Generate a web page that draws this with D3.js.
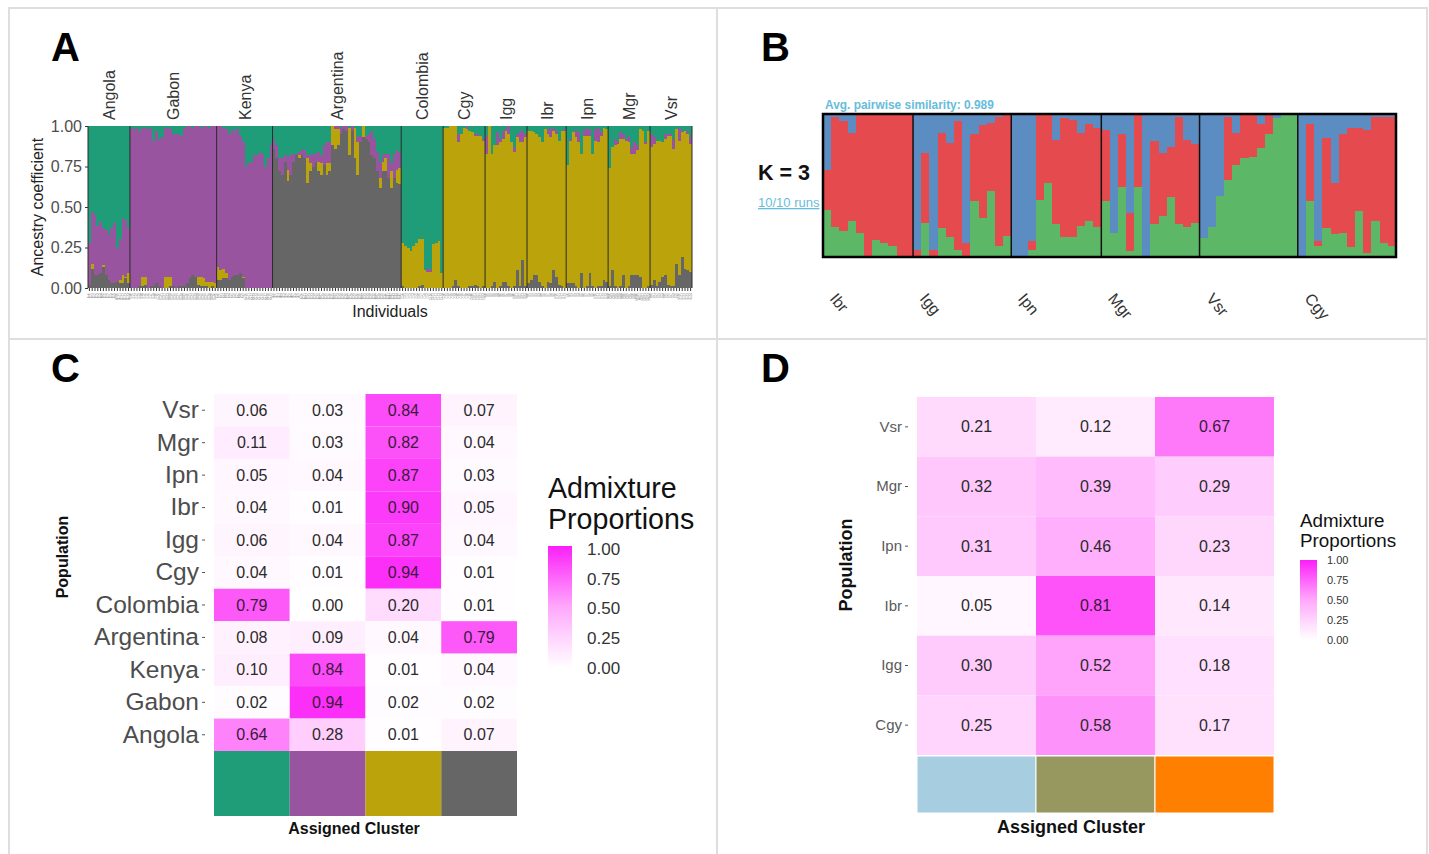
<!DOCTYPE html>
<html>
<head>
<meta charset="utf-8">
<title>Admixture panels</title>
<script src="https://cdnjs.cloudflare.com/ajax/libs/d3/7.8.5/d3.min.js"></script>
<style>
  html, body { margin: 0; padding: 0; background: #fff; }
  svg { display: block; }
  text { font-family: "Liberation Sans", Arial, sans-serif; }
</style>
</head>
<body>
<svg width="1429" height="854"></svg>
<script>
// panel A: populations and how many individuals each one has
var popsA = ['Angola','Gabon','Kenya','Argentina','Colombia','Cgy','Igg','Ibr','Ipn','Mgr','Vsr'];

// panel A: one row per population, one value per individual
var greenA = [
  [.72,.53,.55,.62,.59,.63,.64,.67,.63,.60,.75,.70,.57,.58,.63],
  [.01,.02,.01,.03,.01,.01,.02,.01,.09,.03,.08,.07,.01,.01,.02,.05,.05,.05,.06,.01,0,0,.01,0,0,.01,0,0,.01,0,0],
  [0,0,.01,.02,.05,.02,.03,.02,.06,.10,.25,.23,.22,.18,.18,.16,.17,.25,.20,.12],
  [.08,.12,.20,.20,.18,.19,.18,.17,.17,.16,.14,.15,.18,.18,.17,.17,.16,.18,.12,.10,.10,0,0,0,.01,0,0,.01,0,.01,.07,.06,0,.06,.05,.03,.08,.16,.22,.18,.17,.17,.23,.17,.15,.16],
  [.72,.74,.75,.77,.74,.72,.70,.70,.89,.88,.88,.73,.72,.71,.91],
  [.01,.01,0,0,0,.05,.05,.01,0,.03,.04,.05,.05,.06,.08],
  [.06,0,.17,.12,.04,.08,.03,.02,0,.10,.13,.05,.03,.03,.05],
  [.03,.03,.04,.05,.07,.10,.02,.02,.02,.01,.03,.09,.03,.02],
  [.24,.08,.04,.02,.04,.17,.02,.02,.02,.17,.02,.01,.04,.01,.02],
  [.26,.13,.08,.10,.04,.05,.08,.06,.13,.10,.12,.02,.03,.10,.03],
  [.05,.07,.09,.09,.10,.05,.05,.05,.08,.02,.01,.03,.03,.03,.07]
];
var purpleA = [
  [.26,.32,.37,.30,.32,.23,.28,.28,.34,.37,.21,.25,.35,.35,.28],
  [.99,.98,.99,.96,.92,.92,.98,.98,.90,.94,.91,.93,.92,.92,.91,.94,.95,.94,.93,.98,.97,.94,.91,.93,.93,.92,.94,.96,.95,.96,.97],
  [.87,.89,.87,.89,.90,.91,.89,.90,.85,.83,.75,.77,.78,.82,.82,.84,.83,.75,.80,.88],
  [.06,.08,.08,.10,.04,.08,.12,.05,.01,.02,.04,.05,.02,.05,.08,.05,.06,.05,.12,.13,.13,0,.02,.02,.04,.02,.03,0,.03,0,.03,.04,0,.02,.05,.15,.12,.12,.10,.04,.03,.15,.05,.15,.12,.10],
  [0,0,0,0,0,0,0,0,0,.02,.02,0,0,0,0],
  [0,0,0,0,0,.05,0,0,.02,0,0,.01,.01,0,.01],
  [.11,0,0,0,.08,.02,.05,.01,.05,0,.03,.02,.07,.07,.02],
  [0,0,0,0,0,0,0,.03,.05,.02,.02,0,0,.01],
  [0,.01,0,.05,.06,0,.04,.04,.04,0,.07,.09,.02,0,0],
  [0,0,.04,.01,.04,.03,.01,.04,.04,.07,.03,0,0,.01,0],
  [.08,.04,0,0,0,.03,.01,.01,.06,0,.08,.01,0,.02,.04]
];
var yellowA = [
  [0,.03,0,0,0,.01,0,0,0,0,0,.02,.05,.01,.06],
  [0,0,0,0,.06,.05,0,0,0,0,0,0,.07,.07,.06,0,0,0,0,0,0,0,0,0,.05,.06,.05,.03,.04,.03,.03],
  [.08,.06,.06,.03,0,0,0,0,0,.01,0,0,0,0,0,0,0,0,0,0],
  [0,0,0,0,0,.07,0,0,0,.02,0,0,.15,.05,0,0,.06,.07,0,.07,.05,.12,.12,.10,0,0,0,.17,0,.19,.20,0,.07,0,0,0,0,0,.06,.06,.08,0,.10,0,.08,.10],
  [.27,.26,.25,.23,.26,.28,.29,.28,.11,.10,.10,.27,.28,.29,.09],
  [.99,.99,1,.99,.95,.89,.95,.99,.98,.96,.95,.92,.93,.94,.90],
  [.83,1,.82,.84,.88,.89,.88,.93,.94,.90,.83,.82,.89,.73,.92],
  [.94,.92,.88,.87,.89,.89,.98,.91,.90,.86,.88,.89,.96,.97],
  [.73,.88,.93,.92,.90,.74,.94,.93,.85,.82,.91,.89,.93,.94,.94],
  [.73,.76,.87,.89,.91,.84,.91,.89,.75,.75,.77,.91,.97,.89,.96],
  [.85,.84,.90,.87,.83,.84,.92,.93,.85,.83,.83,.77,.85,.84,.79]
];
var grayA = [
  [.02,.12,.08,.08,.09,.13,.08,.05,.03,.03,.04,.03,.03,.06,.03],
  [0,0,0,.01,.01,.02,0,.01,.01,.03,.01,0,0,0,.01,.01,0,.01,.01,.01,.03,.06,.08,.07,.02,.01,.01,.01,0,.01,0],
  [.05,.05,.06,.06,.05,.07,.08,.08,.09,.06,0,0,0,0,0,0,0,0,0,0],
  [.86,.80,.72,.70,.78,.66,.70,.78,.82,.80,.82,.80,.65,.72,.75,.78,.72,.70,.76,.70,.72,.88,.86,.88,.95,.98,.97,.82,.97,.80,.70,.90,.93,.92,.90,.82,.80,.72,.62,.72,.72,.68,.62,.68,.65,.64],
  [.01,0,0,0,0,0,.01,.02,0,0,0,0,0,0,0],
  [0,0,0,.01,.05,.01,0,0,0,.01,.01,.02,.01,0,.01],
  [0,0,.01,.04,0,.01,.04,.04,.01,0,.01,.11,.01,.17,.01],
  [.03,.05,.08,.08,.04,.01,0,.04,.03,.11,.07,.02,.01,0],
  [.03,.03,.03,.01,0,.09,0,.01,.09,.01,0,.01,.01,.05,.04],
  [.01,.11,.01,0,.01,.08,0,.01,.08,.08,.08,.07,0,0,.01],
  [.02,.05,.01,.04,.07,.08,.02,.01,.01,.15,.08,.19,.12,.11,.10]
];
var ticksA = [0, 0.25, 0.5, 0.75, 1];

// panel B: K = 3 barplot
var popsB = ['Ibr','Igg','Ipn','Mgr','Vsr','Cgy'];
var greenB = [
  [.33,.21,.18,.25,.17,.01,.12,.10,.08,0,0],
  [0,.24,0,.20,.14,.05,.01,.39,.27,.46,.08,.15],
  [.01,0,.05,.40,.52,.23,.14,.14,.22,.25,.21],
  [.39,.17,.49,.04,.49,0,.23,.29,.42,.23,.21,.24],
  [.13,.21,.43,.54,.64,.69,.70,.76,.86,.97,1,1],
  [0,.39,.08,.20,.16,.17,.07,.32,.03,.25,.10,.08]
];
var redB = [
  [.28,.77,.77,.62,.82,.99,.88,.90,.92,1,1],
  [.05,.49,.05,.67,.66,.90,.09,.47,.65,.48,.90,.84],
  [0,0,.06,.59,.47,.59,.83,.82,.65,.68,.69],
  [.50,0,.37,.27,.50,0,.58,.44,.35,.75,.61,.55],
  [0,0,0,.44,.23,.30,.29,.17,.13,0,0,0],
  [0,.54,.03,.63,.36,.69,.83,.58,.86,.73,.88,.90]
];
var blueB = [
  [.39,.02,.05,.13,.01,0,0,0,0,0,0],
  [.95,.27,.95,.13,.20,.05,.90,.14,.08,.06,.02,.01],
  [.99,1,.89,.01,.01,.18,.03,.04,.13,.07,.10],
  [.11,.83,.14,.69,.01,1,.19,.27,.23,.02,.18,.21],
  [.87,.79,.57,.02,.13,.01,.01,.07,.01,.03,0,0],
  [1,.07,.89,.17,.48,.14,.10,.10,.11,.02,.02,.02]
];

// panel C heatmap, rows from the top down
var rowsC = ['Vsr','Mgr','Ipn','Ibr','Igg','Cgy','Colombia','Argentina','Kenya','Gabon','Angola'];
var valuesC = [
  [.06,.03,.84,.07],
  [.11,.03,.82,.04],
  [.05,.04,.87,.03],
  [.04,.01,.90,.05],
  [.06,.04,.87,.04],
  [.04,.01,.94,.01],
  [.79,.00,.20,.01],
  [.08,.09,.04,.79],
  [.10,.84,.01,.04],
  [.02,.94,.02,.02],
  [.64,.28,.01,.07]
];
var clusterColorsC = ['#1f9c78','#98549f','#bba40b','#666666'];

// panel D heatmap
var rowsD = ['Vsr','Mgr','Ipn','Ibr','Igg','Cgy'];
var valuesD = [
  [.21,.12,.67],
  [.32,.39,.29],
  [.31,.46,.23],
  [.05,.81,.14],
  [.30,.52,.18],
  [.25,.58,.17]
];
var clusterColorsD = ['#a6cee0','#96985f','#ff7f00'];
var legendTicks = [0, 0.25, 0.5, 0.75, 1];

var svg = d3.select('svg');
var heatColor = d3.scaleLinear().domain([0, 0.5, 1]).range(['#ffffff', '#ffa8fb', '#fb1ff8']);

// light frame round the four panels
var frame = svg.append('g').attr('fill', 'none').attr('stroke', '#dedede').attr('stroke-width', 2);
frame.append('rect').attr('x', 9).attr('y', 8).attr('width', 1418).attr('height', 860);
frame.append('line').attr('x1', 717).attr('x2', 717).attr('y1', 8).attr('y2', 854);
frame.append('line').attr('x1', 9).attr('x2', 1427).attr('y1', 339).attr('y2', 339);

function panelLetter(label, x, y) {
  svg.append('text').attr('x', x).attr('y', y).text(label)
    .style('font-size', '40px').style('font-weight', 'bold').attr('fill', '#000');
}
panelLetter('A', 51, 61);
panelLetter('B', 761, 61);
panelLetter('C', 51, 382);
panelLetter('D', 761, 382);

// turns the row lists into one record per individual, remembering the group
function flatten(pops, series) {
  var rows = [];
  pops.forEach(function(pop, p) {
    series[Object.keys(series)[0]][p].forEach(function(_, i) {
      var row = {id: pop + '_' + i, pop: pop};
      Object.keys(series).forEach(function(k) { row[k] = series[k][p][i]; });
      rows.push(row);
    });
  });
  return rows;
}

function drawStack(g, rows, keys, colors, x, y) {
  var stack = d3.stack().keys(keys).offset(d3.stackOffsetExpand);
  g.selectAll('.layer').data(stack(rows)).enter().append('g')
    .attr('class', 'layer')
    .attr('fill', function(d) { return colors[d.key]; })
    .attr('shape-rendering', 'crispEdges')
    .selectAll('rect').data(function(d) { return d; }).enter().append('rect')
    .attr('x', function(d) { return x(d.data.id); })
    .attr('y', function(d) { return y(d[1]); })
    .attr('width', x.bandwidth())
    .attr('height', function(d) { return y(d[0]) - y(d[1]); });
}

// start and end of each group along the band scale
function groupSpans(pops, rows, x) {
  return pops.map(function(pop) {
    var own = rows.filter(function(r) { return r.pop === pop; });
    return {pop: pop, x0: x(own[0].id), x1: x(own[own.length - 1].id) + x.bandwidth()};
  });
}

// ---- panel A
(function() {
  var rows = flatten(popsA, {green: greenA, purple: purpleA, yellow: yellowA, gray: grayA});
  var x = d3.scaleBand().domain(rows.map(function(r) { return r.id; })).range([88, 692]);
  var y = d3.scaleLinear().domain([0, 1]).range([288, 126]);
  var g = svg.append('g');
  drawStack(g, rows, ['gray', 'yellow', 'purple', 'green'],
    {green: clusterColorsC[0], purple: clusterColorsC[1], yellow: clusterColorsC[2], gray: clusterColorsC[3]}, x, y);

  var spans = groupSpans(popsA, rows, x);
  g.selectAll('.sep').data(spans).enter().append('line')
    .attr('x1', function(d) { return d.x0; }).attr('x2', function(d) { return d.x0; })
    .attr('y1', y(1)).attr('y2', y(0)).attr('stroke', '#2b2b2b').attr('stroke-width', 1);
  g.append('line').attr('x1', 692).attr('x2', 692).attr('y1', y(1)).attr('y2', y(0))
    .attr('stroke', '#2b2b2b').attr('stroke-width', 1);
  g.selectAll('.pop').data(spans).enter().append('text')
    .attr('transform', function(d) { return 'translate(' + ((d.x0 + d.x1) / 2 + 6) + ',120) rotate(-90)'; })
    .text(function(d) { return d.pop; })
    .attr('fill', '#333').style('font-size', '16px');

  var yAxis = d3.axisLeft(y).tickValues(ticksA).tickFormat(d3.format('.2f')).tickSize(3);
  var ya = svg.append('g').attr('transform', 'translate(88,0)').call(yAxis);
  ya.select('.domain').remove();
  ya.selectAll('text').attr('fill', '#4d4d4d').style('font-size', '16px');
  ya.selectAll('line').attr('stroke', '#333');

  // tiny individual ids under the bars
  var xAxis = d3.axisBottom(x).tickSize(3).tickPadding(2)
    .tickFormat(function(id) { return id.split('_')[0].slice(0, 2) + id.split('_')[1]; });
  var xa = svg.append('g').attr('transform', 'translate(0,288)').call(xAxis);
  xa.select('.domain').remove();
  xa.selectAll('line').attr('stroke', '#333');
  xa.selectAll('text').attr('fill', '#8a8a8a').style('font-size', '3px')
    .attr('transform', 'rotate(-90)').attr('text-anchor', 'end').attr('x', -5).attr('y', 0).attr('dy', '.32em');

  svg.append('text').attr('transform', 'translate(43,207) rotate(-90)').attr('text-anchor', 'middle')
    .text('Ancestry coefficient').attr('fill', '#222').style('font-size', '16px');
  svg.append('text').attr('x', 390).attr('y', 317).attr('text-anchor', 'middle')
    .text('Individuals').attr('fill', '#222').style('font-size', '16px');
})();

// ---- panel B
(function() {
  var rows = flatten(popsB, {green: greenB, red: redB, blue: blueB});
  var x = d3.scaleBand().domain(rows.map(function(r) { return r.id; })).range([823, 1396]);
  var y = d3.scaleLinear().domain([0, 1]).range([257, 114]);
  var g = svg.append('g');
  drawStack(g, rows, ['green', 'red', 'blue'], {green: '#5cb766', red: '#e54a4f', blue: '#5b8cc2'}, x, y);

  var spans = groupSpans(popsB, rows, x);
  g.selectAll('.sep').data(spans.slice(1)).enter().append('line')
    .attr('x1', function(d) { return d.x0; }).attr('x2', function(d) { return d.x0; })
    .attr('y1', y(1)).attr('y2', y(0)).attr('stroke', '#111').attr('stroke-width', 1.5);
  g.append('rect').attr('x', 823).attr('y', y(1)).attr('width', 573).attr('height', y(0) - y(1))
    .attr('fill', 'none').attr('stroke', '#000').attr('stroke-width', 2.5);

  g.selectAll('.pop').data(spans).enter().append('text')
    .attr('transform', function(d) { return 'translate(' + (d.x0 + 6) + ',299) rotate(50)'; })
    .text(function(d) { return d.pop; })
    .attr('fill', '#333').style('font-size', '16px');

  svg.append('text').attr('x', 825).attr('y', 109).text('Avg. pairwise similarity: 0.989')
    .attr('fill', '#66bddb').style('font-size', '11.9px').style('font-weight', 'bold');
  svg.append('text').attr('x', 758).attr('y', 180).text('K = 3')
    .attr('fill', '#111').style('font-size', '21.5px').style('font-weight', 'bold');
  svg.append('text').attr('x', 758).attr('y', 207).text('10/10 runs')
    .attr('fill', '#66bddb').style('font-size', '13px').style('text-decoration', 'underline');
})();

// heatmap with colour strip, axis titles and gradient legend
function drawHeat(opt) {
  var cols = d3.range(opt.values[0].length);
  var x = d3.scaleBand().domain(cols).range(opt.xRange);
  var y = d3.scaleBand().domain(opt.rows).range(opt.yRange);
  var g = svg.append('g');

  var cells = g.selectAll('.row').data(opt.values).enter().append('g')
    .attr('transform', function(d, i) { return 'translate(0,' + y(opt.rows[i]) + ')'; });
  cells.selectAll('rect').data(function(d) { return d; }).enter().append('rect')
    .attr('x', function(d, i) { return x(i); })
    .attr('width', x.bandwidth()).attr('height', y.bandwidth())
    .attr('fill', function(d) { return heatColor(d); });
  cells.selectAll('text').data(function(d) { return d; }).enter().append('text')
    .attr('x', function(d, i) { return x(i) + x.bandwidth() / 2; })
    .attr('y', y.bandwidth() / 2).attr('dy', '.35em').attr('text-anchor', 'middle')
    .text(function(d) { return d3.format('.2f')(d); })
    .attr('fill', function(d) { return d > 0.6 ? '#3a1a3a' : '#2a2a2a'; })
    .style('font-size', opt.valueSize);

  g.selectAll('.strip').data(opt.clusterColors).enter().append('rect')
    .attr('x', function(d, i) { return x(i); }).attr('y', opt.stripY[0])
    .attr('width', x.bandwidth()).attr('height', opt.stripY[1] - opt.stripY[0])
    .attr('fill', function(d) { return d; })
    .attr('stroke', '#fff').attr('stroke-width', opt.stripGap);

  var ya = svg.append('g').attr('transform', 'translate(' + (opt.xRange[0] - opt.axisGap) + ',0)')
    .call(d3.axisLeft(y).tickSize(3).tickPadding(3));
  ya.select('.domain').remove();
  ya.selectAll('text').attr('fill', opt.rowColor).style('font-size', opt.rowSize);
  ya.selectAll('line').attr('stroke', '#555');

  svg.append('text').attr('transform', 'translate(' + opt.popX + ',' + opt.popY + ') rotate(-90)')
    .attr('text-anchor', 'middle').text('Population').attr('fill', '#111')
    .style('font-size', opt.titleSize).style('font-weight', 'bold');
  svg.append('text').attr('x', opt.clusterX).attr('y', opt.clusterY).attr('text-anchor', 'middle')
    .text('Assigned Cluster').attr('fill', '#111')
    .style('font-size', opt.titleSize).style('font-weight', 'bold');

  // legend
  var id = 'grad' + opt.name;
  var grad = svg.append('defs').append('linearGradient').attr('id', id)
    .attr('x1', 0).attr('x2', 0).attr('y1', 1).attr('y2', 0);
  legendTicks.forEach(function(t) {
    grad.append('stop').attr('offset', t).attr('stop-color', heatColor(t));
  });
  var ly = d3.scaleLinear().domain([0, 1]).range(opt.legY);
  svg.append('rect').attr('x', opt.legX).attr('y', ly(1) - opt.legPad)
    .attr('width', opt.legW).attr('height', ly(0) - ly(1) + opt.legPad)
    .attr('fill', 'url(#' + id + ')');
  svg.append('g').selectAll('text').data(legendTicks).enter().append('text')
    .attr('x', opt.legX + opt.legW + opt.legGap).attr('y', function(d) { return ly(d); })
    .attr('dy', '.35em').text(d3.format('.2f'))
    .attr('fill', '#333').style('font-size', opt.legSize);
  opt.legTitle.forEach(function(line, i) {
    svg.append('text').attr('x', opt.legX).attr('y', opt.legTitleY[i]).text(line)
      .attr('fill', '#111').style('font-size', opt.legTitleSize);
  });
}

drawHeat({
  name: 'C', rows: rowsC, values: valuesC, clusterColors: clusterColorsC,
  xRange: [214, 517], yRange: [394, 751], stripY: [751, 816], stripGap: 0,
  axisGap: 9, rowSize: '24.5px', rowColor: '#4d4d4d', valueSize: '16px',
  popX: 68, popY: 557, clusterX: 354, clusterY: 834, titleSize: '16px',
  legX: 548, legW: 24, legY: [668, 549], legPad: 3, legGap: 15, legSize: '17px',
  legTitle: ['Admixture', 'Proportions'], legTitleY: [498, 529], legTitleSize: '28.6px'
});
drawHeat({
  name: 'D', rows: rowsD, values: valuesD, clusterColors: clusterColorsD,
  xRange: [917, 1274], yRange: [397, 755], stripY: [756, 813], stripGap: 1,
  axisGap: 9, rowSize: '15px', rowColor: '#5a5a5a', valueSize: '16px',
  popX: 852, popY: 565, clusterX: 1071, clusterY: 833, titleSize: '18px',
  legX: 1300, legW: 17, legY: [640, 560], legPad: 0, legGap: 10, legSize: '11px',
  legTitle: ['Admixture', 'Proportions'], legTitleY: [527, 547], legTitleSize: '18.8px'
});
</script>
</body>
</html>
